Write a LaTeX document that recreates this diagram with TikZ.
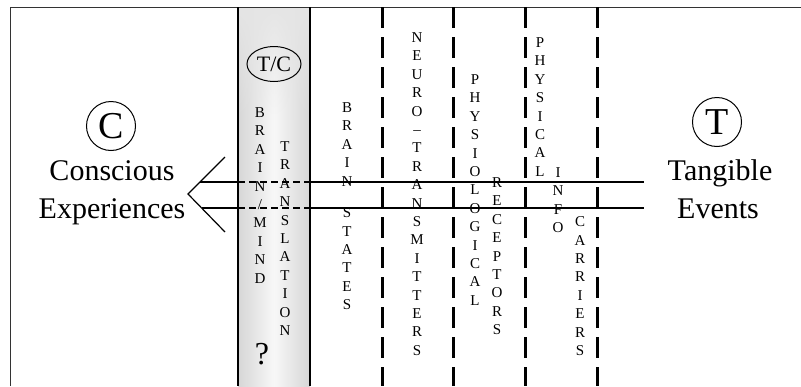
\documentclass[tikz,border=0pt]{standalone}
\usepackage{fontspec}
\setmainfont{Liberation Serif}
\usetikzlibrary{shapes.geometric,fadings}
\begin{document}
\begin{tikzpicture}[x=1pt,y=-1pt,
    letters/.style={align=center,inner sep=0pt,anchor=north,font=\fontsize{15}{18.4}\selectfont},
    bigword/.style={inner sep=0pt,anchor=base,font=\fontsize{30}{30}\selectfont},
    ring/.style={draw,circle,line width=1pt,minimum size=49pt,inner sep=0pt,font=\fontsize{38}{38}\selectfont},
    wall/.style={line width=3pt,dash pattern=on 21pt off 9pt},
    track/.style={line width=1.2pt}]
\useasboundingbox (0,0) rectangle (801,386);

%Shaded translation column
    \shade[left color=gray!32,right color=gray!32,middle color=gray!6] (238,7) rectangle (310,386);
    \fill[gray!20,path fading=south] (238,7) rectangle (310,120);
    \draw[line width=0.8pt,black!80] (10,386) -- (10,7) -- (801,7);
    \draw[line width=1.3pt] (238,7) -- (238,386);
    \draw[line width=1.3pt] (310,7) -- (310,386);

%Dashed walls between the levels
    \foreach \xx in {382,453,525,597}
        \draw[wall] (\xx,7) -- (\xx,386);

%Two tracks from the fork to the events
    \coordinate (fork) at (188,194);
    \coordinate (armtop) at (225,157);
    \coordinate (armbot) at (225,232);
    \draw[track] (armtop) -- (fork) -- (armbot);
    \foreach \yy/\xx in {182/200,208/202}
    {
        \draw[track] (\xx,\yy) -- (238,\yy);
        \draw[track,dash pattern=on 7pt off 4pt] (238,\yy) -- (310,\yy);
        \draw[track] (310,\yy) -- (644,\yy);
    }

%Left and right labels
    \node[ring] (cring) at (111,126) {C};
    \node[bigword] (conscious) at (112,180) {Conscious};
    \node[bigword] (experiences) at (112,218) {Experiences};
    \node[ring] (tring) at (717,122) {T};
    \node[bigword] (tangible) at (720,180) {Tangible};
    \node[bigword] (events) at (718,218) {Events};

%Column texts
    \node[draw,ellipse,line width=1pt,minimum width=54pt,minimum height=35pt,inner sep=0pt,
        font=\fontsize{22}{22}\selectfont] (tc) at (274,64) {T/C};
    \node[inner sep=0pt,font=\fontsize{32}{32}\selectfont] (query) at (262,354) {?};
    \node[letters] (brainmind) at (260,107.5) {B\\R\\A\\I\\N\\/\\M\\I\\N\\D};
    \node[letters] (translation) at (285,141.5) {T\\R\\A\\N\\S\\L\\A\\T\\I\\O\\N};
    \node[letters] (brain) at (347,102.5) {B\\R\\A\\I\\N};
    \node[letters] (states) at (347,207.5) {S\\T\\A\\T\\E\\S};
    \node[letters] (neuro) at (417,32.5) {N\\E\\U\\R\\O\\–\\T\\R\\A\\N\\S\\M\\I\\T\\T\\E\\R\\S};
    \node[letters] (physiological) at (475,74.5) {P\\H\\Y\\S\\I\\O\\L\\O\\G\\I\\C\\A\\L};
    \node[letters] (receptors) at (497,177.5) {R\\E\\C\\E\\P\\T\\O\\R\\S};
    \node[letters] (physical) at (540,37.5) {P\\H\\Y\\S\\I\\C\\A\\L};
    \node[letters] (info) at (558,167.5) {I\\N\\F\\O};
    \node[letters] (carriers) at (580,216.5) {C\\A\\R\\R\\I\\E\\R\\S};
\end{tikzpicture}
\end{document}
